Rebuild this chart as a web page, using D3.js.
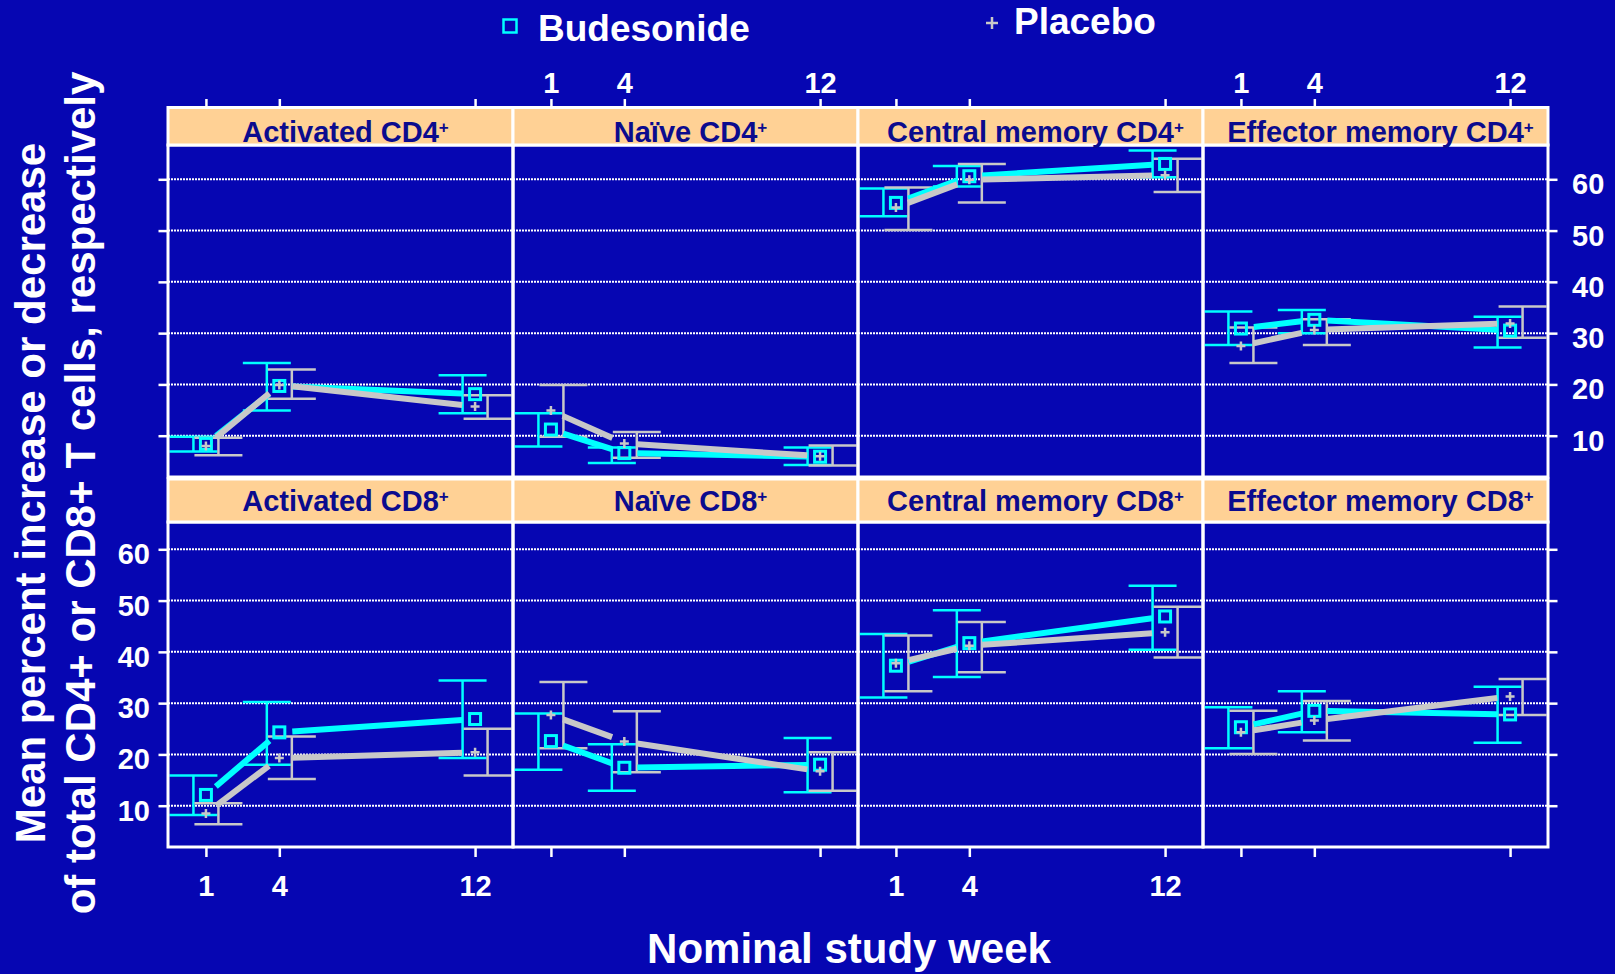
<!DOCTYPE html>
<html>
<head>
<meta charset="utf-8">
<script src="https://cdn.jsdelivr.net/npm/d3@7"></script>
<style>
  body { margin: 0; background: #0606b2; }
  svg { display: block; }
  text { font-family: "Liberation Sans", Arial, sans-serif; font-weight: bold; }
</style>
</head>
<body>
<svg id="chart" width="1615" height="974"></svg>
<script>
// study weeks and panels
const weeks = [1, 4, 12];
const panelNames = ["Activated CD4", "Naïve CD4", "Central memory CD4", "Effector memory CD4",
                    "Activated CD8", "Naïve CD8", "Central memory CD8", "Effector memory CD8"];
const yTicks = [10, 20, 30, 40, 50, 60];

// Budesonide: mean and error bar ends, one row per panel (weeks 1, 4, 12)
const budMean = [[8.4, 19.7, 18.1], [11.2, 6.6, 5.9], [55.4, 60.6, 63.0], [30.9, 32.6, 30.5],
                 [12.1, 24.3, 26.9], [22.6, 17.4, 18.0], [37.3, 41.7, 46.9], [25.3, 28.5, 27.8]];
const budLow = [[6.9, 14.9, 14.4], [7.9, 4.7, 4.3], [52.8, 58.6, 60.4], [27.7, 30.0, 27.2],
                [8.2, 18.0, 19.3], [17.0, 12.9, 12.6], [31.1, 35.1, 40.4], [21.2, 24.3, 22.3]];
const budHigh = [[9.8, 24.2, 21.8], [14.4, 7.7, 7.7], [58.2, 62.6, 65.6], [34.2, 34.5, 33.2],
                 [15.9, 30.2, 34.4], [28.0, 22.0, 23.2], [43.5, 48.1, 52.9], [29.2, 32.3, 33.2]];

// Placebo
const placMean = [[8.0, 19.9, 15.7], [14.9, 8.5, 6.0], [54.5, 59.9, 60.8], [27.5, 30.6, 31.9],
                  [8.5, 19.3, 20.4], [27.7, 22.5, 16.7], [37.8, 41.2, 43.8], [24.3, 26.6, 31.3]];
const placLow = [[6.2, 17.2, 13.3], [9.8, 5.7, 4.2], [50.1, 55.5, 57.5], [24.2, 27.7, 29.1],
                 [6.4, 15.2, 15.9], [21.2, 16.5, 12.9], [32.3, 36.0, 38.9], [20.1, 22.7, 27.7]];
const placHigh = [[9.6, 22.9, 17.9], [19.9, 10.7, 8.1], [58.4, 63.0, 64.0], [31.1, 32.7, 35.2],
                  [10.5, 23.5, 25.0], [34.1, 28.4, 20.4], [43.2, 45.8, 48.8], [28.5, 30.4, 34.7]];

const bg = "#0606b2", cyan = "#00ffff", grey = "#c8c8c8", peach = "#ffd195", navy = "#0b0b8e";

var svg = d3.select("#chart");
svg.append("rect").attr("width", 1615).attr("height", 974).attr("fill", bg);

var colLeft = 168, colW = 345;
var rows = [
    { stripTop: 107.5, stripBot: 145, plotBot: 477, y10: 435.7, y60: 179.3, stripBase: 142 },
    { stripTop: 479, stripBot: 522, plotBot: 847, y10: 805.7, y60: 549.3, stripBase: 511 }
];

function gapped(pts, gap) {
    var segs = [];
    for (var i = 0; i < pts.length - 1; i++) {
        var a = pts[i], b = pts[i + 1];
        var dx = b[0] - a[0], dy = b[1] - a[1], len = Math.sqrt(dx * dx + dy * dy);
        var ux = dx / len, uy = dy / len;
        segs.push([[a[0] + ux * gap, a[1] + uy * gap], [b[0] - ux * gap, b[1] - uy * gap]]);
    }
    return segs;
}

function errorBars(g, x, y, low, high, color, off) {
    var bars = g.append("g");
    weeks.forEach(function(w, i) {
        var xb = x(w) + off;
        bars.append("line").attr("x1", xb).attr("x2", xb)
            .attr("y1", y(low[i])).attr("y2", y(high[i]));
        [low[i], high[i]].forEach(function(v) {
            bars.append("line").attr("x1", xb - 24).attr("x2", xb + 24)
                .attr("y1", y(v)).attr("y2", y(v));
        });
    });
    bars.selectAll("line").attr("stroke", color).attr("stroke-width", 2.5);
}

function meanLine(g, x, y, mean, color) {
    var pts = weeks.map(function(w, i) { return [x(w), y(mean[i])]; });
    var line = d3.line();
    g.append("g").selectAll("path")
        .data(gapped(pts, 13))
        .enter()
        .append("path")
        .attr("d", line)
        .attr("fill", "none")
        .attr("stroke", color)
        .attr("stroke-width", 6);
}

panelNames.forEach(function(name, p) {
    var r = rows[Math.floor(p / 4)], c = p % 4;
    var left = colLeft + c * colW;
    var x = d3.scaleLinear().domain([-0.55, 13.55]).range([left, left + colW]);
    var y = d3.scaleLinear().domain([10, 60]).range([r.y10, r.y60]);
    var g = svg.append("g");

    g.append("clipPath").attr("id", "clip" + p)
        .append("rect").attr("x", left).attr("y", r.stripBot)
        .attr("width", colW).attr("height", r.plotBot - r.stripBot);

    // dotted gridlines
    g.append("g").selectAll("line")
        .data(yTicks)
        .enter()
        .append("line")
        .attr("x1", left).attr("x2", left + colW)
        .attr("y1", function(d) { return y(d); })
        .attr("y2", function(d) { return y(d); })
        .attr("stroke", "white")
        .attr("stroke-width", 2)
        .attr("stroke-dasharray", "2,1");

    var marks = g.append("g").attr("clip-path", "url(#clip" + p + ")");
    errorBars(marks, x, y, budLow[p], budHigh[p], cyan, -12.5);
    errorBars(marks, x, y, placLow[p], placHigh[p], grey, 12.5);
    meanLine(marks, x, y, budMean[p], cyan);
    meanLine(marks, x, y, placMean[p], grey);

    marks.append("g").selectAll("rect")
        .data(budMean[p])
        .enter()
        .append("rect")
        .attr("x", function(d, i) { return x(weeks[i]) - 5.5; })
        .attr("y", function(d) { return y(d) - 5.5; })
        .attr("width", 11).attr("height", 11)
        .attr("fill", "none")
        .attr("stroke", cyan)
        .attr("stroke-width", 3);

    marks.append("g").selectAll("path")
        .data(placMean[p])
        .enter()
        .append("path")
        .attr("d", function(d, i) {
            var px = x(weeks[i]), py = y(d);
            return "M" + (px - 4.5) + "," + py + "H" + (px + 4.5) + "M" + px + "," + (py - 4.5) + "V" + (py + 4.5);
        })
        .attr("stroke", grey)
        .attr("stroke-width", 2.5);

    // frame
    g.append("rect").attr("x", left).attr("y", r.stripBot)
        .attr("width", colW).attr("height", r.plotBot - r.stripBot)
        .attr("fill", "none").attr("stroke", "white").attr("stroke-width", 3);

    // strip
    g.append("rect").attr("x", left).attr("y", r.stripTop)
        .attr("width", colW).attr("height", r.stripBot - r.stripTop)
        .attr("fill", peach).attr("stroke", "white").attr("stroke-width", 3);
    var st = g.append("text")
        .attr("x", left + colW / 2 + 5)
        .attr("y", r.stripBase)
        .attr("text-anchor", "middle")
        .attr("fill", navy)
        .attr("font-size", 29)
        .text(name);
    st.append("tspan").attr("font-size", 17).attr("dy", -9).text("+");

    // axes: ticks everywhere, labels alternate
    var top = Math.floor(p / 4) == 0, bottom = !top;
    if (top) {
        var ax = d3.axisTop(x).tickValues(weeks).tickSize(8.5).tickPadding(6)
            .tickFormat(c % 2 == 1 ? d3.format("d") : function() { return ""; });
        g.append("g").attr("class", "axis").attr("transform", "translate(0," + r.stripTop + ")").call(ax);
    } else {
        var ax = d3.axisBottom(x).tickValues(weeks).tickSize(10).tickPadding(18)
            .tickFormat(c % 2 == 0 ? d3.format("d") : function() { return ""; });
        g.append("g").attr("class", "axis").attr("transform", "translate(0," + r.plotBot + ")").call(ax);
    }
    if (c == 0) {
        var ay = d3.axisLeft(y).tickValues(yTicks).tickSize(9.5).tickPadding(8.5)
            .tickFormat(bottom ? d3.format("d") : function() { return ""; });
        g.append("g").attr("class", "axis yaxis").attr("transform", "translate(" + left + ",0)").call(ay);
    }
    if (c == 3) {
        var ay = d3.axisRight(y).tickValues(yTicks).tickSize(9.5).tickPadding(14.5)
            .tickFormat(top ? d3.format("d") : function() { return ""; });
        g.append("g").attr("class", "axis yaxis").attr("transform", "translate(" + (left + colW) + ",0)").call(ay);
    }
});

svg.selectAll(".axis .domain").remove();
svg.selectAll(".axis line").attr("stroke", "white").attr("stroke-width", 2.5);
svg.selectAll(".axis text")
    .attr("fill", "white")
    .attr("font-size", 29)
    .attr("font-family", null);
svg.selectAll(".yaxis text").attr("dy", "0.5em");
svg.selectAll(".axis").attr("font-family", null).attr("font-size", null);

// legend
svg.append("rect").attr("x", 503.5).attr("y", 19.5).attr("width", 13).attr("height", 13)
    .attr("fill", "none").attr("stroke", cyan).attr("stroke-width", 2.5);
svg.append("text").attr("x", 538).attr("y", 41).attr("fill", "white").attr("font-size", 37).text("Budesonide");
svg.append("path").attr("d", "M986,23H998M992,17V29").attr("stroke", grey).attr("stroke-width", 2.5);
svg.append("text").attr("x", 1014).attr("y", 34).attr("fill", "white").attr("font-size", 37).text("Placebo");

// axis titles
svg.append("text").attr("transform", "translate(45,493) rotate(-90)")
    .attr("text-anchor", "middle").attr("fill", "white").attr("font-size", 42)
    .text("Mean percent increase or decrease");
svg.append("text").attr("transform", "translate(95,493) rotate(-90)")
    .attr("text-anchor", "middle").attr("fill", "white").attr("font-size", 42)
    .text("of total CD4+ or CD8+ T cells, respectively");
svg.append("text").attr("x", 849).attr("y", 963)
    .attr("text-anchor", "middle").attr("fill", "white").attr("font-size", 42)
    .text("Nominal study week");
</script>
</body>
</html>
